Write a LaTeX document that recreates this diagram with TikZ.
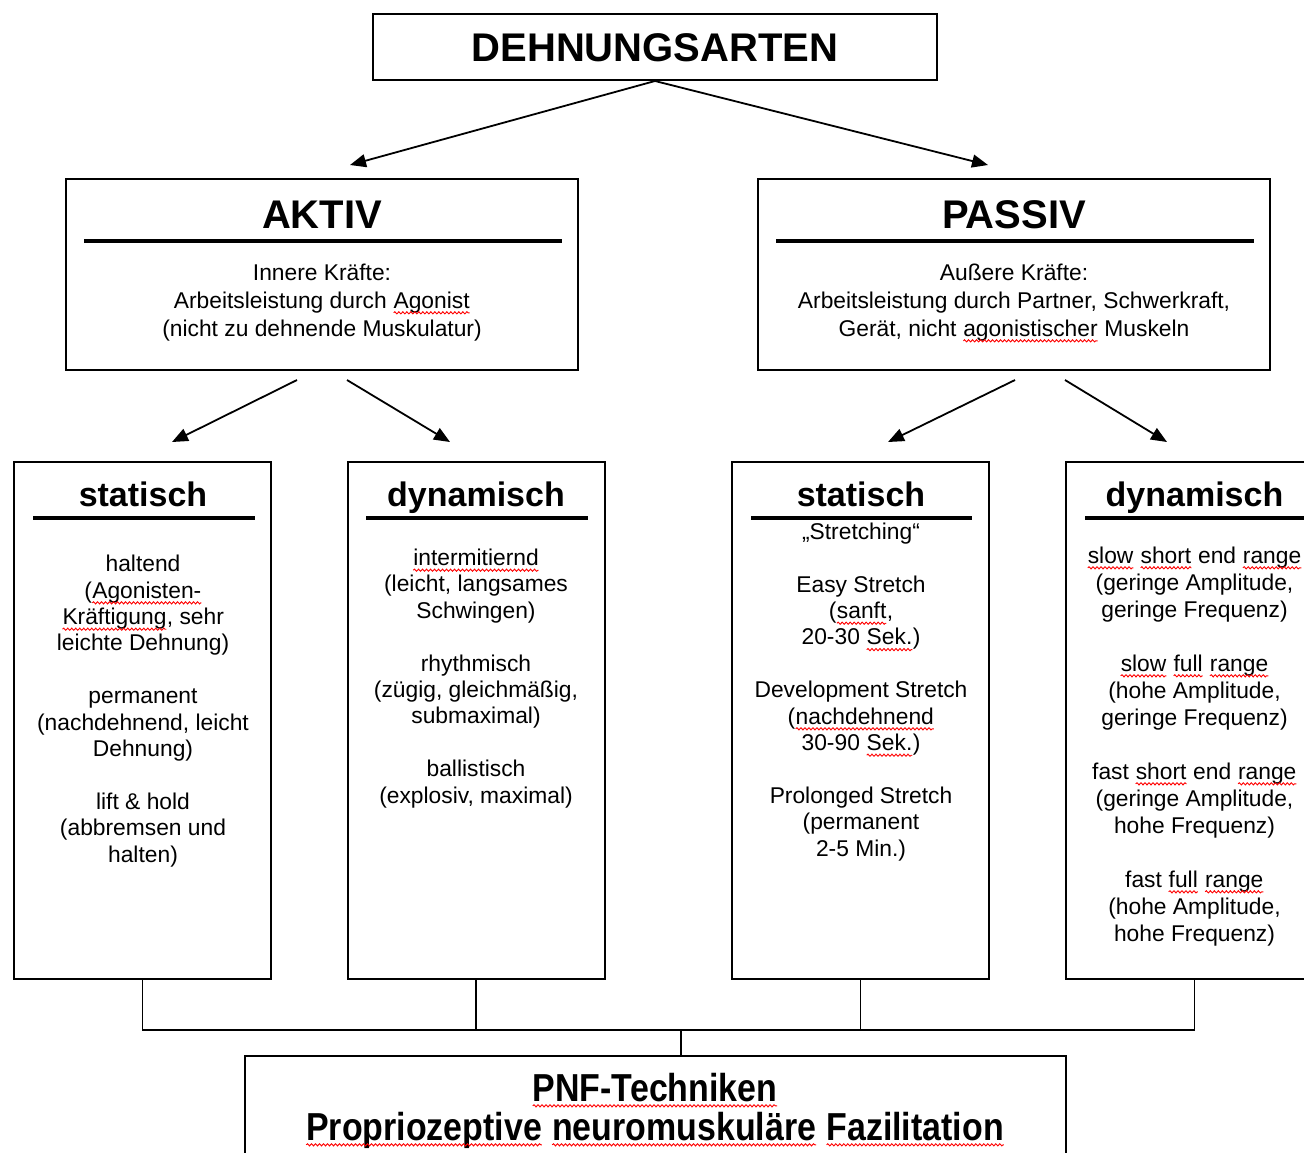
\documentclass[tikz,border=0pt]{standalone}
\usepackage{fontspec}
\setmainfont{Liberation Sans}
\newfontfamily\narrowfont[FakeStretch=0.87]{Liberation Sans}
\usetikzlibrary{arrows.meta,decorations.pathmorphing}

\newcommand\sic[1]{\tikz[baseline=(sicw.base)]{\node[inner sep=0pt,outer sep=0pt,anchor=base](sicw) at (0,0){#1};\draw[red,line width=0.45pt,decorate,decoration={snake,amplitude=0.55pt,segment length=2pt}]([yshift=-2.4pt]sicw.base west)--([yshift=-2.4pt]sicw.base east);}}

\tikzset{
  box/.style={draw, line width=1pt, fill=white, inner sep=0pt},
  rulerline/.style={line width=1.8pt},
  arr/.style={line width=0.9pt, -{Triangle[length=8pt,width=6.5pt]}},
  conn/.style={line width=0.9pt},
  bigtitle/.style={font=\fontsize{20}{24}\selectfont\bfseries, inner sep=0pt, anchor=base},
  subtitle/.style={font=\fontsize{17}{20}\selectfont\bfseries, inner sep=0pt, anchor=base},
  body/.style={font=\fontsize{11.4}{13.2}\selectfont, align=center, inner sep=0pt, anchor=base},
  bodywide/.style={font=\fontsize{11.4}{13.5}\selectfont, align=center, inner sep=0pt, anchor=base},
  headbody/.style={font=\fontsize{11.4}{14}\selectfont, align=center, inner sep=0pt, anchor=base},
  pnftext/.style={font=\narrowfont\bfseries\fontsize{19.5}{19.5}\selectfont, align=center, inner sep=0pt, anchor=base},
}

\begin{document}
\begin{tikzpicture}[x=0.5pt,y=-0.5pt]
\useasboundingbox (0,0) rectangle (1304,1152);
\clip (0,0) rectangle (1304,1152);
\fill[white] (0,0) rectangle (1304,1152);

% top box
\node[box, minimum width=282pt, minimum height=33pt] (top) at (655,47) {};
\node[bigtitle] (toptxt) at (655,61) {DEHNUNGSARTEN};

% level 2 boxes
\node[box, minimum width=256pt, minimum height=95.5pt] (aktiv) at (322,274.5) {};
\node[box, minimum width=256pt, minimum height=95.5pt] (passiv) at (1014,274.5) {};
\node[bigtitle] (aktivtxt) at (322,228) {AKTIV};
\node[bigtitle] (passivtxt) at (1014,228) {PASSIV};
\draw[rulerline] (84,241) -- (562,241);
\draw[rulerline] (776,241) -- (1254,241);
% anchor base = baseline of the last line
\node[headbody] (aktivbody) at (322,336) {Innere Kräfte:\\Arbeitsleistung durch \sic{Agonist}\\(nicht zu dehnende Muskulatur)};
\node[headbody] (passivbody) at (1014,336) {Außere Kräfte:\\Arbeitsleistung durch Partner, Schwerkraft,\\Gerät, nicht \sic{agonistischer} Muskeln};

% arrows level 1
\coordinate (tipA) at (350,165);
\coordinate (tipP) at (988,165);
\draw[arr] (top.south) -- (tipA);
\draw[arr] (top.south) -- (tipP);

% arrows level 2
\coordinate (a1s) at (297,380); \coordinate (a1e) at (172,442);
\coordinate (a2s) at (347,380); \coordinate (a2e) at (450,442);
\coordinate (p1s) at (1015,380); \coordinate (p1e) at (888,442);
\coordinate (p2s) at (1065,380); \coordinate (p2e) at (1167,442);
\draw[arr] (a1s) -- (a1e);
\draw[arr] (a2s) -- (a2e);
\draw[arr] (p1s) -- (p1e);
\draw[arr] (p2s) -- (p2e);

% level 3 boxes
\node[box, minimum width=128.5pt, minimum height=258.5pt] (b1) at (142.5,720.5) {};
\node[box, minimum width=128.5pt, minimum height=258.5pt] (b2) at (476,720.5) {};
\node[box, minimum width=128.5pt, minimum height=258.5pt] (b3) at (860.5,720.5) {};
\node[box, minimum width=128.5pt, minimum height=258.5pt] (b4) at (1194.5,720.5) {};
\node[subtitle] (b1t) at (143,506) {statisch};
\node[subtitle] (b2t) at (476,506) {dynamisch};
\node[subtitle] (b3t) at (861,506) {statisch};
\node[subtitle] (b4t) at (1194.5,506) {dynamisch};
\draw[rulerline] (33,518) -- (255,518);
\draw[rulerline] (366,518) -- (588,518);
\draw[rulerline] (751,518) -- (972,518);
\draw[rulerline] (1085,518) -- (1310,518);

\node[body] (b1body) at (143,862) {haltend\\(\sic{Agonisten-}\\\sic{Kräftigung}, sehr\\leichte Dehnung)\\[13.2pt]
permanent\\(nachdehnend, leicht\\Dehnung)\\[13.2pt]
lift \& hold\\(abbremsen und\\halten)};
\node[body] (b2body) at (476,803) {\sic{intermitiernd}\\(leicht, langsames\\Schwingen)\\[13.2pt]
rhythmisch\\(zügig, gleichmäßig,\\submaximal)\\[13.2pt]
ballistisch\\(explosiv, maximal)};
\node[body] (b3body) at (861,856) {„Stretching“\\[13.2pt]
Easy Stretch\\(\sic{sanft},\\20-30 \sic{Sek.})\\[13.2pt]
Development Stretch\\(\sic{nachdehnend}\\30-90 \sic{Sek.})\\[13.2pt]
Prolonged Stretch\\(permanent\\2-5 Min.)};
\node[bodywide] (b4body) at (1194.5,941) {\sic{slow} \sic{short} end \sic{range}\\(geringe Amplitude,\\geringe Frequenz)\\[13.5pt]
\sic{slow} \sic{full} \sic{range}\\(hohe Amplitude,\\geringe Frequenz)\\[13.5pt]
fast \sic{short} end \sic{range}\\(geringe Amplitude,\\hohe Frequenz)\\[13.5pt]
fast \sic{full} \sic{range}\\(hohe Amplitude,\\hohe Frequenz)};

% bottom box
\node[box, minimum width=410.5pt, minimum height=62pt] (pnf) at (655.5,1118) {};
\node[pnftext] (pnftxt) at (655,1140) {\sic{PNF-Techniken}\\\sic{Propriozeptive} \sic{neuromuskuläre} \sic{Fazilitation}};

% connectors to bottom
\coordinate (bus) at (681,1030);
\draw[conn] (b1.south) -- (b1.south |- bus) -- (b4.south |- bus) -- (b4.south);
\draw[conn] (b2.south) -- (b2.south |- bus);
\draw[conn] (b3.south) -- (b3.south |- bus);
\draw[conn] (bus) -- (bus |- pnf.north);
\end{tikzpicture}
\end{document}
